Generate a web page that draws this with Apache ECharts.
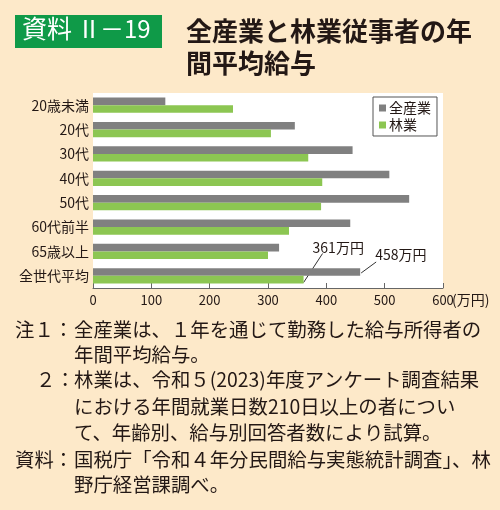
<!DOCTYPE html>
<html>
<head>
<meta charset="utf-8">
<script src="https://cdn.jsdelivr.net/npm/echarts@6/dist/echarts.min.js"></script>
<style>
html,body{margin:0;padding:0;background:#fde9c9;}
#c{width:500px;height:510px;}
</style>
</head>
<body>
<div id="c"></div>
<script>
const categories = ['20歳未満', '20代', '30代', '40代', '50代', '60代前半', '65歳以上', '全世代平均'];
const allIndustry = [124, 346, 445, 508, 542, 441, 319, 458];
const forestry = [240, 305, 369, 393, 391, 336, 300, 361];
const seriesNames = ['全産業', '林業'];
const xTicks = [0, 100, 200, 300, 400, 500, 600];
const labeledCategory = '全世代平均';
const unitLabel = '万円';

const FONT = '"Noto Sans CJK JP", "Noto Sans", sans-serif';
const TXT = '#231815';

function toData(arr) {
  return arr.map((v, i) => categories[i] === labeledCategory
    ? { value: v, label: { show: true } }
    : { value: v });
}

const notes = [
  { x: 15, y: 330, t: '注１：' },
  { x: 74, y: 330, t: '全産業は、１年を通じて勤務した給与所得者の' },
  { x: 74, y: 355, t: '年間平均給与。' },
  { x: 36, y: 380, t: '２：' },
  { x: 74, y: 380, t: '林業は、令和５(2023)年度アンケート調査結果' },
  { x: 74, y: 407, t: 'における年間就業日数210日以上の者につい' },
  { x: 74, y: 433, t: 'て、年齢別、給与別回答者数により試算。' },
  { x: 15, y: 460, t: '資料：' },
  { x: 74, y: 460, t: '国税庁「令和４年分民間給与実態統計調査」、林' },
  { x: 74, y: 485, t: '野庁経営課調べ。' }
];

const chart = echarts.init(document.getElementById('c'), null, { renderer: 'canvas' });
const baseGraphics = [
  { type: 'rect', left: 15, top: 15, shape: { width: 147, height: 33 }, style: { fill: '#0f9a48' } },
  { type: 'text', left: 22, top: 16, style: { text: '資料', fill: '#ffffff', font: '25px ' + FONT } },
  { type: 'text', left: 77, top: 17, style: { text: 'Ⅱ', fill: '#ffffff', font: '24px ' + FONT } },
  { type: 'text', left: 100, top: 17, style: { text: '－19', fill: '#ffffff', font: '24px ' + FONT } },
  { type: 'text', left: 186, top: 18, style: { text: '全産業と林業従事者の年', fill: TXT, font: 'bold 26px ' + FONT } },
  { type: 'text', left: 186, top: 50, style: { text: '間平均給与', fill: TXT, font: 'bold 26px ' + FONT } }
].concat(notes.map(n => ({
  type: 'text', x: n.x, y: n.y,
  style: { text: n.t, fill: TXT, font: '19.4px ' + FONT, verticalAlign: 'middle', align: 'left' }
})));

chart.setOption({
  backgroundColor: '#fde9c9',
  animation: false,
  textStyle: { fontFamily: FONT, color: TXT },
  grid: {
    left: 93, right: 57, top: 93, bottom: 222,
    show: true, backgroundColor: '#ffffff', borderWidth: 0
  },
  legend: {
    data: seriesNames,
    orient: 'vertical',
    left: 373, top: 97,
    backgroundColor: '#ffffff',
    borderColor: '#555555', borderWidth: 1, borderRadius: 0,
    padding: [4, 6, 4, 6],
    itemWidth: 7, itemHeight: 7, itemGap: 3,
    icon: 'rect',
    textStyle: { fontSize: 14, color: TXT, fontFamily: FONT, padding: [0, 0, 0, -2] }
  },
  xAxis: {
    type: 'value',
    min: 0, max: 600, interval: 100,
    axisLine: { show: true, lineStyle: { color: '#666666', width: 1 } },
    axisTick: { show: true, inside: true, length: 5, lineStyle: { color: '#666666' } },
    splitLine: { show: false },
    axisLabel: {
      fontSize: 13, color: TXT, fontFamily: FONT, margin: 6,
      formatter: v => xTicks.includes(v) ? String(v) : ''
    },
    name: '(' + unitLabel + ')',
    nameLocation: 'end',
    nameGap: 9,
    nameMoveOverlap: false,
    nameTextStyle: { fontSize: 14, color: TXT, fontFamily: FONT, align: 'left', verticalAlign: 'top', padding: [5, 0, 0, 0] }
  },
  yAxis: {
    type: 'category',
    data: categories,
    inverse: true,
    axisLine: { show: false },
    axisTick: { show: false },
    axisLabel: { fontSize: 14, color: TXT, fontFamily: FONT, margin: 4 }
  },
  series: [
    {
      name: seriesNames[0], type: 'bar',
      data: toData(allIndustry),
      barGap: '0%', barCategoryGap: '37%',
      itemStyle: { color: '#808080' },
      label: {
        show: false, position: 'right', fontSize: 14, color: TXT, fontFamily: FONT,
        formatter: p => p.value + unitLabel
      },
      labelLayout: { dx: 10, dy: -17 }
    },
    {
      name: seriesNames[1], type: 'bar',
      data: toData(forestry),
      barGap: '0%', barCategoryGap: '37%',
      itemStyle: { color: '#8cc652' },
      label: {
        show: false, position: 'right', fontSize: 14, color: TXT, fontFamily: FONT,
        formatter: p => p.value + unitLabel
      },
      labelLayout: { dx: 4, dy: -32 }
    }
  ],
  graphic: baseGraphics
});

// Leader lines anchored at the bar ends computed by ECharts' own layout
const idx = categories.indexOf(labeledCategory);
function barLayout(seriesIndex) {
  const s = chart.getModel().getSeriesByIndex(seriesIndex);
  return s.getData().getItemLayout(idx);
}
const g = barLayout(0), f = barLayout(1);
const gx = g.x + g.width, gy = g.y + g.height / 2;
const fx = f.x + f.width, fy = f.y + f.height;
chart.setOption({
  graphic: baseGraphics.concat([
    { type: 'line', shape: { x1: gx + 1, y1: gy + 1, x2: gx + 16, y2: gy - 10 }, style: { stroke: '#333333', lineWidth: 1 } },
    { type: 'line', shape: { x1: fx, y1: fy - 1, x2: fx + 19, y2: fy - 30 }, style: { stroke: '#333333', lineWidth: 1 } }
  ])
});
</script>
</body>
</html>
